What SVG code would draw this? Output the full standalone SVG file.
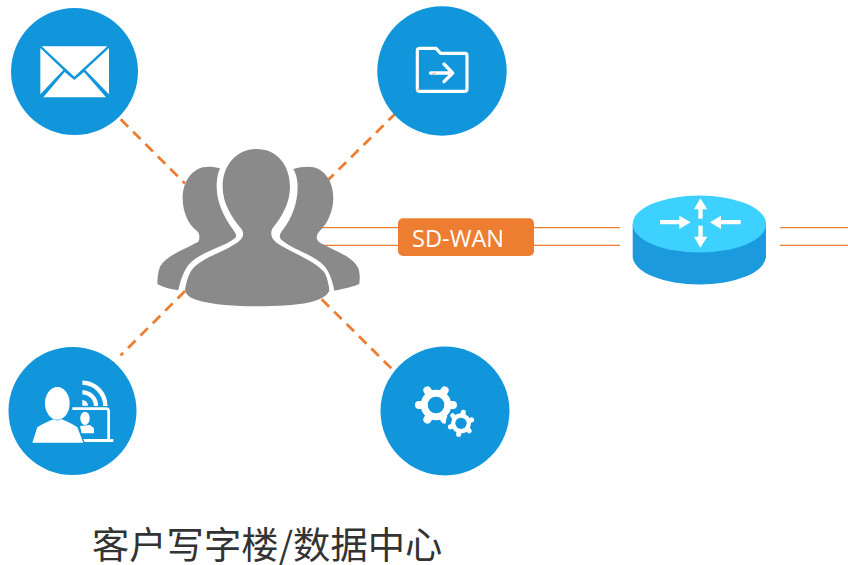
<svg xmlns="http://www.w3.org/2000/svg" width="848" height="565" viewBox="0 0 848 565">
<style>
.disc{fill:#1296DB}
.dash{stroke:#ED7D31;stroke-width:2.8;stroke-dasharray:10.5 7;fill:none}
.wire{stroke:#ED7D31;stroke-width:1.3;fill:none}
.tick{stroke:#ED7D31;stroke-width:2.5;fill:none}
.w{fill:#fff}
.ws{stroke:#fff;fill:none}
.person{fill:#8A8A8A}
</style>
<rect width="848" height="565" fill="#fff"/>
<g id="connectors">
<path class="dash" d="M120.7 119.3L185 183.5"/>
<path class="dash" d="M396 113L328 180"/>
<path class="dash" d="M185 291L120.5 355.5"/>
<path class="dash" d="M321.7 299.3L392 369"/>
<path class="wire" d="M316.7 227.7H398M316.7 245.3H398M534 227.7H620M534 245.3H620M780 227.7H848M780 245.3H848"/>
</g>
<g id="node-mail">
<circle class="disc" cx="74.5" cy="71.5" r="63.5"/>
<g transform="scale(.3333)">
<path class="w" d="M125 139H322L223 230ZM121 144L190 210L121 283ZM327 144L256 210L327 283ZM130 292L194 216L223 240L252 216L318 292Z"/>
</g>
</g>
<g id="node-folder">
<circle class="disc" cx="442" cy="71" r="64.7"/>
<g transform="translate(370 0) scale(.3333)">
<path class="ws" stroke-width="9.5" d="M150 145H198L212 160H285Q291 160 291 166V268Q291 274 285 274H148Q142 274 142 268V151Q142 145 150 145Z"/>
<path class="ws" stroke-width="10" stroke-linecap="round" stroke-linejoin="round" d="M182 219H248M222 192L248 219L222 245"/>
<path class="tick" stroke-width="7" d="M140 272L150 263M187 222L197 219"/>
</g>
</g>
<g id="node-remote">
<circle class="disc" cx="72.5" cy="411" r="64"/>
<g transform="translate(0 340) scale(.3333)">
<ellipse class="w" cx="172" cy="190" rx="37" ry="49"/>
<path class="w" d="M97 308L112 262Q130 250 160 238Q172 245 185 238Q215 250 232 262L250 308Z"/>
<path class="ws" stroke-width="13" d="M247 128A70 70 0 0 1 316 198M247 157A41 41 0 0 1 288 198"/>
<path class="w" d="M247 180A17 17 0 0 1 264 197H247Z"/>
<path class="ws" stroke-width="8" d="M217 206H318Q326 206 326 214V298"/>
<path class="w" d="M250 297H340V306H254Z"/>
<ellipse class="w" cx="255" cy="235" rx="14" ry="20"/>
<path class="w" d="M240 258L270 255L282 265V280H245Z"/>
<path class="tick" stroke-width="7" d="M341 65L346 70"/>
</g>
</g>
<g id="node-gears">
<circle class="disc" cx="445" cy="411" r="64.5"/>
<g transform="translate(370 340) scale(.3333)">
<circle class="w" cx="198" cy="195" r="46"/>
<g class="ws" stroke-width="24" stroke-linecap="round">
<path d="M147 195H249M172 151L224 239M224 151L172 239"/>
</g>
<circle class="disc" cx="198" cy="195" r="25"/>
<circle class="disc" cx="273" cy="250" r="46"/>
<circle class="w" cx="273" cy="250" r="30"/>
<g class="ws" stroke-width="15" stroke-linecap="round" transform="rotate(12 273 250)">
<path d="M273 216V284M244 233L302 267M302 233L244 267"/>
</g>
<circle class="disc" cx="273" cy="250" r="17"/>
</g>
</g>
<g id="node-users" transform="translate(150 140) scale(.3333)">
<path class="person" d="M210 85C200 82 190 80 175 80C130 80 98 120 98 175C98 215 115 255 140 272C150 280 150 295 145 305C110 325 50 345 30 380C24 395 22 415 22 432C40 442 60 447 85 451C90 425 100 395 115 375C150 335 215 325 255 295C262 288 258 282 250 270C225 235 200 190 200 140C200 120 203 100 210 85Z"/>
<path class="person" d="M430 87C445 82 460 80 475 80C520 80 550 120 550 175C550 215 530 255 510 272C497 285 497 300 510 308C550 330 610 350 625 385C630 400 630 415 628 432C610 440 580 447 553 452C548 425 540 400 525 380C495 345 430 330 395 300C385 290 390 280 400 268C425 235 443 190 443 140C443 120 438 100 430 87Z"/>
<path class="person" d="M320 27C380 27 420 75 420 140C420 190 395 230 370 262C360 275 360 295 385 312C430 340 500 365 525 400C532 415 537 435 538 452C530 470 510 478 480 487C430 497 380 499 320 499C260 499 190 495 140 480C120 473 108 465 105 450C108 430 115 405 125 390C150 355 225 335 265 305C285 290 282 275 270 262C245 230 218 190 218 140C218 75 260 27 320 27Z"/>
</g>
<g id="node-sdwan">
<rect x="398" y="218.3" width="136" height="37.7" rx="5" fill="#ED7D31"/>
<text x="412" y="246.5" font-family="'Open Sans','Noto Sans',sans-serif" font-size="23.6" fill="#fff">SD-WAN</text>
</g>
<g id="node-router">
<path fill="#1B9ADD" d="M632.7 224V257A66.7 28.7 0 0 0 766 257V224Z"/>
<ellipse cx="699.4" cy="224" rx="66.7" ry="28.5" fill="#3DD1FF"/>
<g transform="translate(620 185) scale(.3333)">
<path class="w" d="M241 40L262 73H248V101H235V73H222ZM241 188L222 155H235V122H248V155H262ZM212 112L178 92V105H120V118H178V132ZM270 112L303 92V105H362V118H303V132Z"/>
</g>
</g>
<g id="caption">
<text x="92" y="559" font-family="'Noto Sans CJK SC',sans-serif" font-size="37.3" fill="#333">客户写字楼/数据中心</text>
</g>
</svg>
